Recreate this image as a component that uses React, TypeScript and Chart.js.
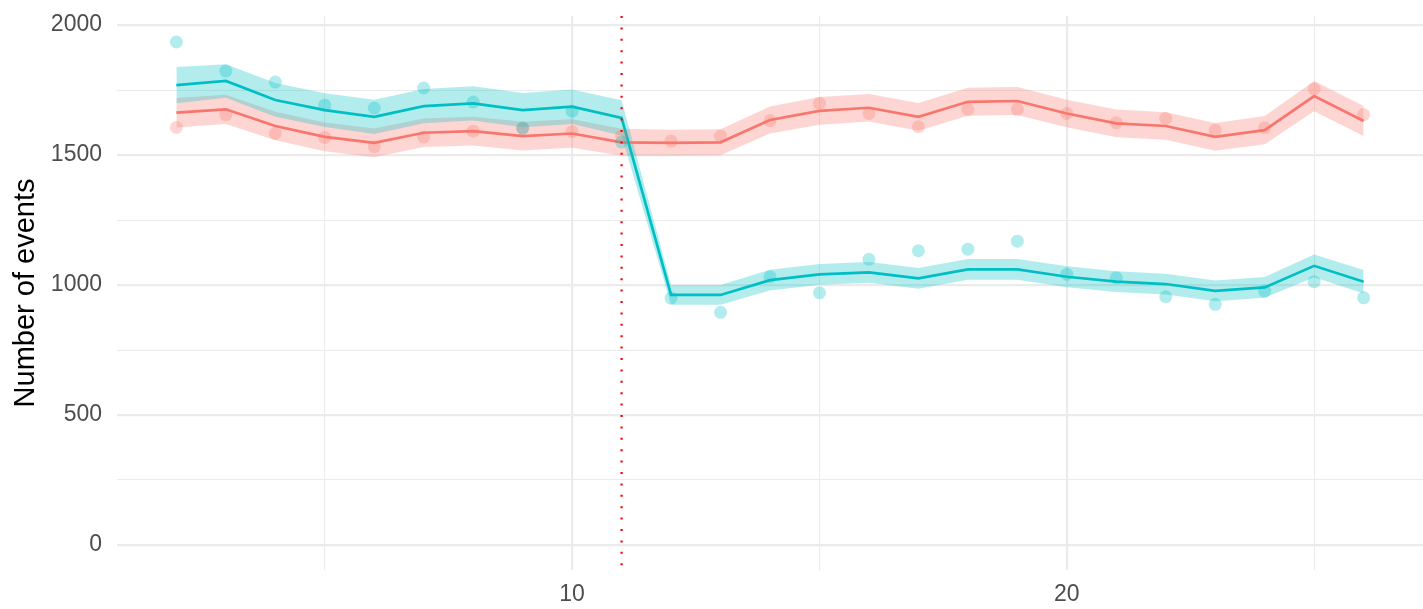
import React, { useEffect, useRef } from "react";
import { Chart, registerables } from "chart.js";

Chart.register(...registerables);

// ---- data ----
const weeks = [2, 3, 4, 5, 6, 7, 8, 9, 10, 11, 12, 13, 14, 15, 16, 17, 18, 19, 20, 21, 22, 23, 24, 25, 26];

const cyanObserved = [1935, 1823, 1781, 1692, 1681, 1758, 1704, 1604, 1669, 1550, 950, 895, 1032, 970, 1099, 1132, 1138, 1169, 1042, 1028, 955, 926, 977, 1013, 951];
const cyanFitted = [1769, 1785, 1712, 1673, 1647, 1688, 1699, 1673, 1686, 1643, 962, 962, 1019, 1041, 1049, 1026, 1060, 1060, 1032, 1013, 1004, 978, 991, 1074, 1013];
const cyanHalfWidth = [70, 64, 65, 65, 66, 66, 66, 66, 66, 68, 38, 38, 40, 40, 40, 40, 40, 40, 40, 40, 40, 40, 40, 44, 45];

const redObserved = [1606, 1656, 1583, 1568, 1532, 1570, 1592, 1603, 1590, 1573, 1554, 1573, 1632, 1699, 1660, 1609, 1676, 1676, 1660, 1624, 1641, 1596, 1605, 1754, 1656];
const redFitted = [1663, 1676, 1612, 1570, 1547, 1586, 1592, 1573, 1583, 1549, 1547, 1549, 1635, 1670, 1682, 1647, 1705, 1708, 1660, 1622, 1612, 1570, 1596, 1727, 1631];
const redHalfWidth = [57, 56, 55, 55, 55, 55, 55, 55, 55, 52, 50, 50, 52, 53, 53, 53, 54, 54, 53, 53, 53, 53, 54, 58, 58];

const cutoffWeek = 11;

const yTicks = [0, 250, 500, 750, 1000, 1250, 1500, 1750, 2000];
const xTicks = [5, 10, 15, 20, 25];

const yAxisTitle = "Number of events";

// ---- styling ----
const CYAN = "#00BFC4";
const RED = "#F8766D";
const FONT = "'Liberation Sans', Arial, Helvetica, sans-serif";

function pts(xs: number[], ys: number[]) {
  return xs.map((x, i) => ({ x, y: ys[i] }));
}

const cutoffPlugin = {
  id: "cutoffLine",
  afterDatasetsDraw(chart: any) {
    const { ctx, chartArea, scales } = chart;
    const px = scales.x.getPixelForValue(cutoffWeek);
    ctx.save();
    ctx.strokeStyle = "#FF0000";
    ctx.lineWidth = 2.2;
    ctx.setLineDash([2, 9.4]);
    ctx.beginPath();
    ctx.moveTo(px, chartArea.top);
    ctx.lineTo(px, chartArea.bottom);
    ctx.stroke();
    ctx.restore();
  },
};

export default function App() {
  const ref = useRef<HTMLCanvasElement | null>(null);

  useEffect(() => {
    document.body.style.margin = "0";
    const canvas = ref.current;
    if (!canvas) return;

    const cyanUpper = cyanFitted.map((v, i) => v + cyanHalfWidth[i]);
    const cyanLower = cyanFitted.map((v, i) => v - cyanHalfWidth[i]);
    const redUpper = redFitted.map((v, i) => v + redHalfWidth[i]);
    const redLower = redFitted.map((v, i) => v - redHalfWidth[i]);

    const chart = new Chart(canvas, {
      type: "line",
      data: {
        datasets: [
          {
            type: "scatter",
            data: pts(weeks, cyanObserved),
            backgroundColor: "rgba(0,191,196,0.3)",
            borderWidth: 0,
            pointRadius: 6.5,
            showLine: false,
            order: 0,
          } as any,
          {
            type: "scatter",
            data: pts(weeks, redObserved),
            backgroundColor: "rgba(248,118,109,0.3)",
            borderWidth: 0,
            pointRadius: 6.5,
            showLine: false,
            order: 0,
          } as any,
          {
            data: pts(weeks, cyanFitted),
            borderColor: CYAN,
            borderWidth: 2.7,
            pointRadius: 0,
            fill: false,
            tension: 0,
            order: 1,
          },
          {
            data: pts(weeks, redFitted),
            borderColor: RED,
            borderWidth: 2.7,
            pointRadius: 0,
            fill: false,
            tension: 0,
            order: 1,
          },
          {
            data: pts(weeks, cyanUpper),
            borderWidth: 0,
            borderColor: "rgba(0,0,0,0)",
            pointRadius: 0,
            backgroundColor: "rgba(0,191,196,0.3)",
            fill: { target: 5 },
            order: 2,
          } as any,
          {
            data: pts(weeks, cyanLower),
            borderWidth: 0,
            borderColor: "rgba(0,0,0,0)",
            pointRadius: 0,
            fill: false,
            order: 2,
          },
          {
            data: pts(weeks, redUpper),
            borderWidth: 0,
            borderColor: "rgba(0,0,0,0)",
            pointRadius: 0,
            backgroundColor: "rgba(248,118,109,0.3)",
            fill: { target: 7 },
            order: 3,
          } as any,
          {
            data: pts(weeks, redLower),
            borderWidth: 0,
            borderColor: "rgba(0,0,0,0)",
            pointRadius: 0,
            fill: false,
            order: 3,
          },
        ],
      },
      options: {
        responsive: false,
        animation: false,
        devicePixelRatio: 1,
        layout: { autoPadding: false, padding: { top: 16, right: 0, left: 0, bottom: 0 } },
        plugins: {
          legend: { display: false },
          tooltip: { enabled: false },
          title: { display: false },
        },
        scales: {
          x: {
            type: "linear",
            min: 0.8,
            max: 27.2,
            afterBuildTicks: (s: any) => {
              s.ticks = xTicks.map((v) => ({ value: v }));
            },
            afterFit: (s: any) => {
              s.height = 39;
              s.paddingLeft = 0;
              s.paddingRight = 0;
            },
            border: { display: false },
            grid: {
              color: "#EBEBEB",
              lineWidth: (c: any) => (c.tick && c.tick.value % 10 === 0 ? 2.2 : 1.1),
              drawTicks: false,
            },
            ticks: {
              autoSkip: false,
              maxRotation: 0,
              padding: 11,
              color: "#4D4D4D",
              font: { family: FONT, size: 23 },
              callback: (v: any) => (Number(v) % 10 === 0 ? String(v) : ""),
            },
          },
          y: {
            type: "linear",
            min: -96,
            max: 2035,
            afterBuildTicks: (s: any) => {
              s.ticks = yTicks.map((v) => ({ value: v }));
            },
            afterFit: (s: any) => {
              s.width = 117;
              s.paddingTop = 0;
              s.paddingBottom = 0;
            },
            border: { display: false },
            grid: {
              color: "#EBEBEB",
              lineWidth: (c: any) => (c.tick && c.tick.value % 500 === 0 ? 2.2 : 1.1),
              drawTicks: false,
            },
            ticks: {
              autoSkip: false,
              padding: 15,
              color: "#4D4D4D",
              font: { family: FONT, size: 23 },
              callback: (v: any) => (Number(v) % 500 === 0 ? String(v) : ""),
            },
            title: {
              display: true,
              text: yAxisTitle,
              color: "#000000",
              font: { family: FONT, size: 29 },
              padding: { top: 9, bottom: 0 },
            },
          },
        },
      },
      plugins: [cutoffPlugin],
    } as any);

    return () => chart.destroy();
  }, []);

  return (
    <div style={{ width: 1423, height: 609, background: "#FFFFFF" }}>
      <canvas ref={ref} width={1423} height={609} style={{ display: "block" }} />
    </div>
  );
}
